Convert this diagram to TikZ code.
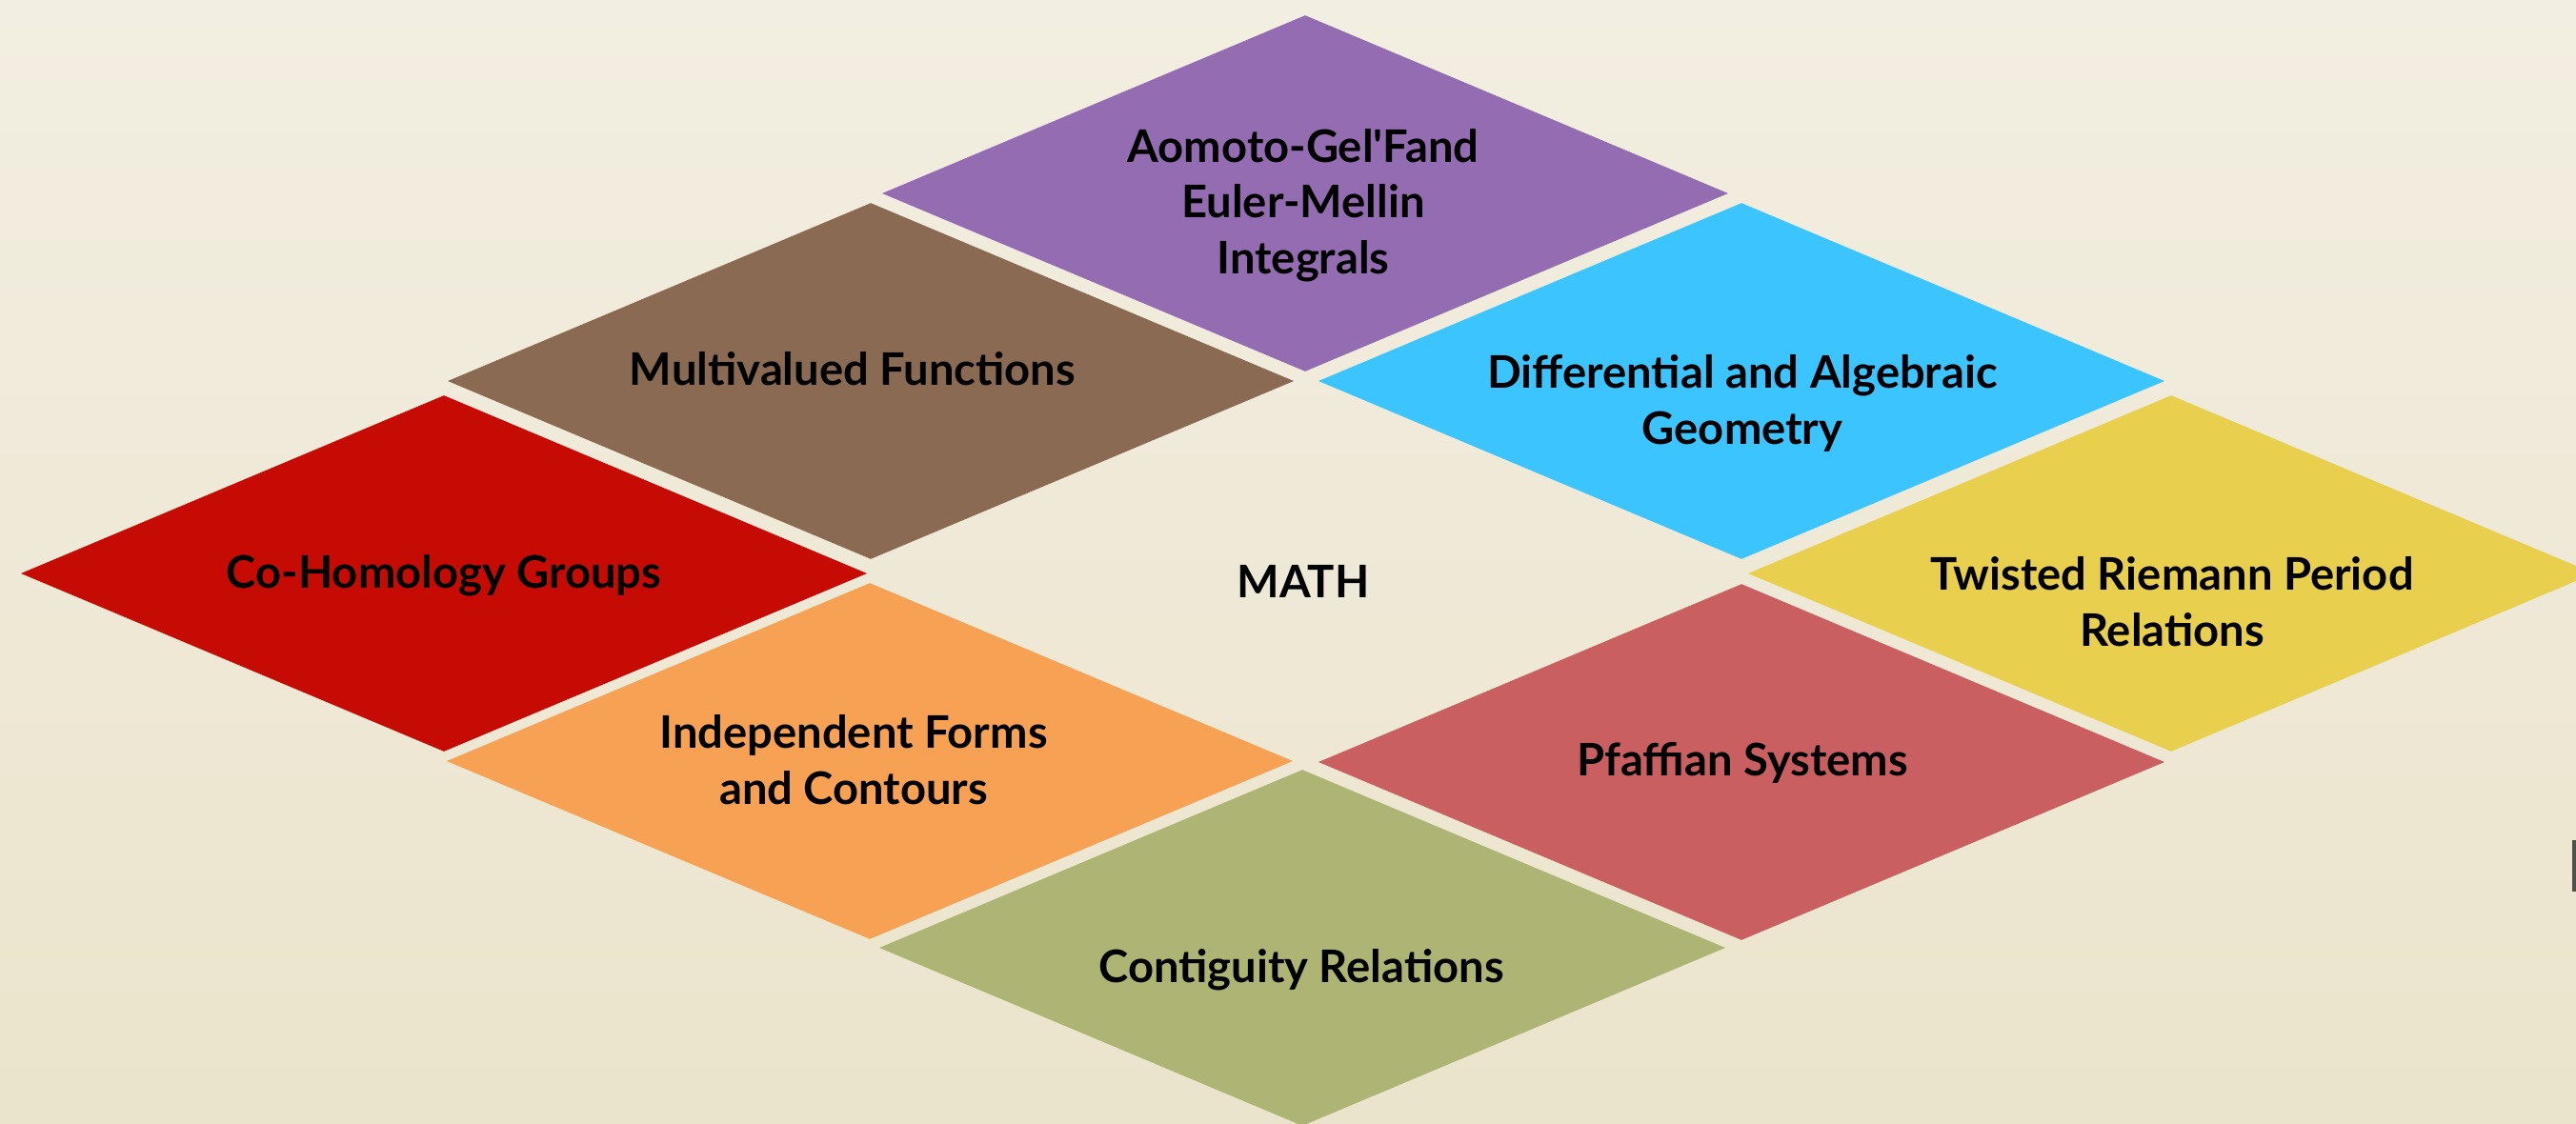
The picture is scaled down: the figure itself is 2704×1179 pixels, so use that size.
\documentclass[tikz,border=0pt]{standalone}
\usepackage{fontspec}
\setmainfont{Lato}
\usetikzlibrary{shapes.geometric}
\definecolor{papertop}{HTML}{F2EEE1}
\definecolor{paperbottom}{HTML}{EBE4CC}
\definecolor{tilepurple}{HTML}{936CB1}
\definecolor{tilebrown}{HTML}{8A6A52}
\definecolor{tileblue}{HTML}{3BC4FD}
\definecolor{tilered}{HTML}{C60A04}
\definecolor{tileyellow}{HTML}{E8CF4D}
\definecolor{tileorange}{HTML}{F6A154}
\definecolor{tilepink}{HTML}{CA5F62}
\definecolor{tilegreen}{HTML}{AEB473}
\tikzset{
  tile/.style = {shape=diamond, fill=#1, minimum width=8.88cm,
    minimum height=3.74cm, inner sep=0pt},
  caption/.style = {font=\bfseries\fontsize{13.4}{16.6}\selectfont,
    align=center, inner sep=0pt, text depth=0pt, anchor=south}
}

\begin{document}
\begin{tikzpicture}[x=0.01cm, y=-0.01cm]
  \useasboundingbox (0,0) rectangle (2704,1179);
  \clip (0,0) rectangle (2704,1179);
  \shade[top color=papertop, bottom color=paperbottom] (0,0) rectangle (2704,1179);
  % tiles
  \node[tile=tilepurple] (integrals) at (1370,203) {};
  \node[tile=tilebrown]  (multivalued) at (914,400) {};
  \node[tile=tileblue]   (geometry) at (1828,400) {};
  \node[tile=tilered]    (cohomology) at (466,602) {};
  \node[tile=tileyellow] (riemann) at (2279,602) {};
  \node[tile=tileorange] (forms) at (913,799) {};
  \node[tile=tilepink]   (pfaffian) at (1828,800) {};
  \node[tile=tilegreen]  (contiguity) at (1367,995) {};
  % captions, placed on the last baseline
  \node[caption] (integralsText) at (1368,288)
    {Aomoto-Gel\textquotesingle Fand\\Euler-Mellin\\Integrals};
  \node[caption] (multivaluedText) at (895,405) {Multivalued Functions};
  \node[caption] (geometryText) at (1829,467) {Differential and Algebraic\\Geometry};
  \node[caption] (cohomologyText) at (466,618) {Co-Homology Groups};
  \node[caption] (mathText) at (1368,628) {MATH};
  \node[caption] (riemannText) at (2280,679) {Twisted Riemann Period\\Relations};
  \node[caption] (formsText) at (896,845) {Independent Forms\\and Contours};
  \node[caption] (pfaffianText) at (1829,815) {Pfaffian Systems};
  \node[caption] (contiguityText) at (1366,1032) {Contiguity Relations};
  \fill[black!65!paperbottom] (2700,882) rectangle (2704,936);
\end{tikzpicture}
\end{document}
